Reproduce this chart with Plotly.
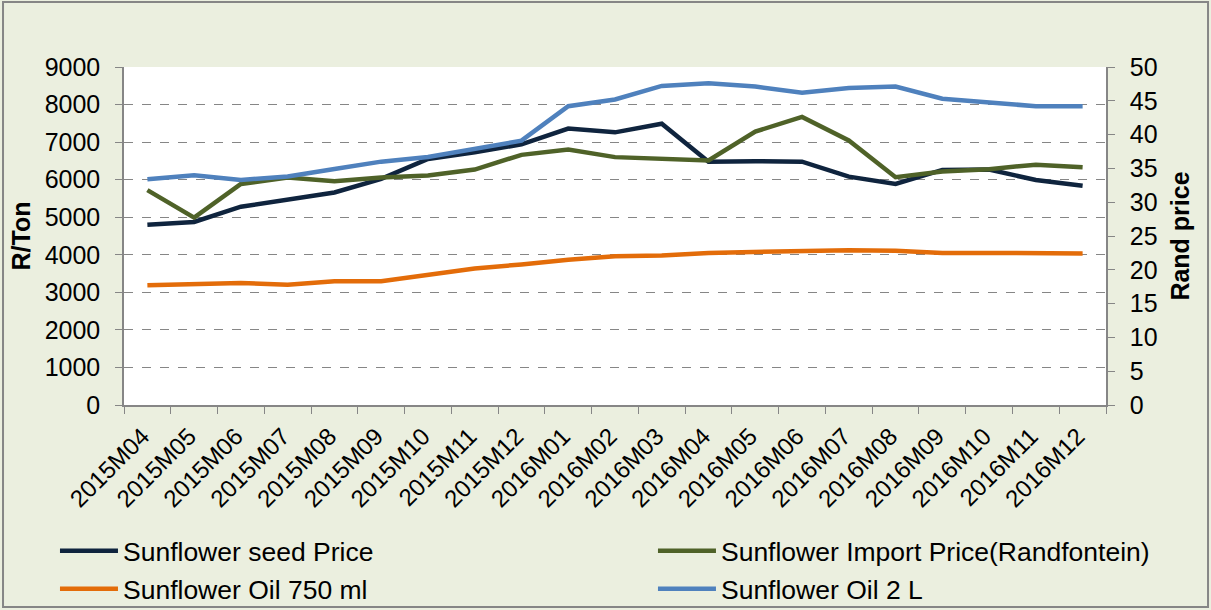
import plotly.graph_objects as go

months = ["2015M04", "2015M05", "2015M06", "2015M07", "2015M08", "2015M09", "2015M10",
          "2015M11", "2015M12", "2016M01", "2016M02", "2016M03", "2016M04", "2016M05",
          "2016M06", "2016M07", "2016M08", "2016M09", "2016M10", "2016M11", "2016M12"]

# R/Ton (left axis)
seed_price = [4800, 4875, 5280, 5460, 5660, 6020, 6550, 6730, 6940, 7360, 7260,
              7490, 6480, 6490, 6480, 6080, 5885, 6260, 6270, 5990, 5840]
import_price = [5720, 4990, 5885, 6060, 5960, 6060, 6110, 6270, 6660, 6800, 6600,
                6560, 6510, 7280, 7670, 7045, 6065, 6220, 6280, 6400, 6330]

# Rand price (right axis)
oil_750 = [17.7, 17.9, 18.05, 17.8, 18.3, 18.3, 19.3, 20.2, 20.8, 21.5, 22.0,
           22.1, 22.5, 22.6, 22.8, 22.9, 22.8, 22.5, 22.5, 22.5, 22.4]
oil_2l = [33.4, 34.0, 33.3, 33.8, 34.9, 36.0, 36.7, 37.9, 39.1, 44.2, 45.2,
          47.2, 47.6, 47.1, 46.2, 46.9, 47.1, 45.3, 44.8, 44.2, 44.2]

left_ticks = list(range(0, 9001, 1000))
right_ticks = list(range(0, 51, 5))

font = "Liberation Sans, Arial, sans-serif"
grey = "#868686"

fig = go.Figure()
fig.add_trace(go.Scatter(x=months, y=seed_price, name="Sunflower seed Price",
                         legend="legend", showlegend=True,
                         mode="lines", line=dict(color="#0F243E", width=4.5)))
fig.add_trace(go.Scatter(x=months, y=import_price, name="Sunflower Import Price(Randfontein)",
                         legend="legend2", showlegend=True,
                         mode="lines", line=dict(color="#4F6228", width=4.5)))
fig.add_trace(go.Scatter(x=months, y=oil_750, name="Sunflower Oil 750 ml", yaxis="y2",
                         legend="legend3", showlegend=True,
                         mode="lines", line=dict(color="#E36C09", width=4.5)))
fig.add_trace(go.Scatter(x=months, y=oil_2l, name="Sunflower Oil 2 L", yaxis="y2",
                         legend="legend4", showlegend=True,
                         mode="lines", line=dict(color="#4F81BD", width=4.5)))

# one legend box per entry, placed in a 2x2 grid below the plot
legend_style = dict(
    orientation="h", xref="container", yref="container",
    xanchor="left", yanchor="middle", itemwidth=58,
    font=dict(size=26.5), bgcolor="rgba(0,0,0,0)",
)

fig.update_layout(
    width=1211, height=610,
    margin=dict(l=124, r=105, t=67, b=205),
    paper_bgcolor="#EBEFDF",
    plot_bgcolor="white",
    showlegend=True,
    font=dict(family=font, size=25, color="black"),
    xaxis=dict(
        type="category", range=[-0.5, len(months) - 0.5],
        tickangle=-45, tickson="boundaries",
        ticks="outside", ticklen=7, tickcolor=grey,
        ticklabelstandoff=6, ticklabelshift=-5,
        showline=True, linecolor=grey, linewidth=1.5,
        showgrid=False, zeroline=False, automargin=False,
        tickfont=dict(size=24),
    ),
    yaxis=dict(
        range=[0, 9000], tickvals=left_ticks,
        ticks="outside", ticklen=7, tickcolor=grey, ticklabelstandoff=10,
        showline=True, linecolor=grey, linewidth=1.5, automargin=False,
        gridcolor=grey, griddash="dash", gridwidth=1, zeroline=False,
        title=dict(text="<b>R/Ton</b>", font=dict(size=25), standoff=7),
    ),
    yaxis2=dict(
        range=[0, 50], tickvals=right_ticks, overlaying="y", side="right",
        ticks="outside", ticklen=7, tickcolor=grey, ticklabelstandoff=10,
        showline=True, linecolor=grey, linewidth=1.5, automargin=False,
        showgrid=False, zeroline=False,
        title=dict(text="<b>Rand price</b>", font=dict(size=25), standoff=15),
    ),
    legend=dict(legend_style, x=0.0454, y=0.0967),
    legend2=dict(legend_style, x=0.5392, y=0.0967),
    legend3=dict(legend_style, x=0.0454, y=0.0344),
    legend4=dict(legend_style, x=0.5392, y=0.0344),
    shapes=[dict(type="rect", xref="paper", yref="paper",
                 x0=-0.1232, x1=1.1039, y0=-0.598, y1=1.192,
                 line=dict(color=grey, width=2), layer="below")],
)

fig.write_html("out.html", config={"displayModeBar": False},
               post_script="document.body.style.margin='0px';")
